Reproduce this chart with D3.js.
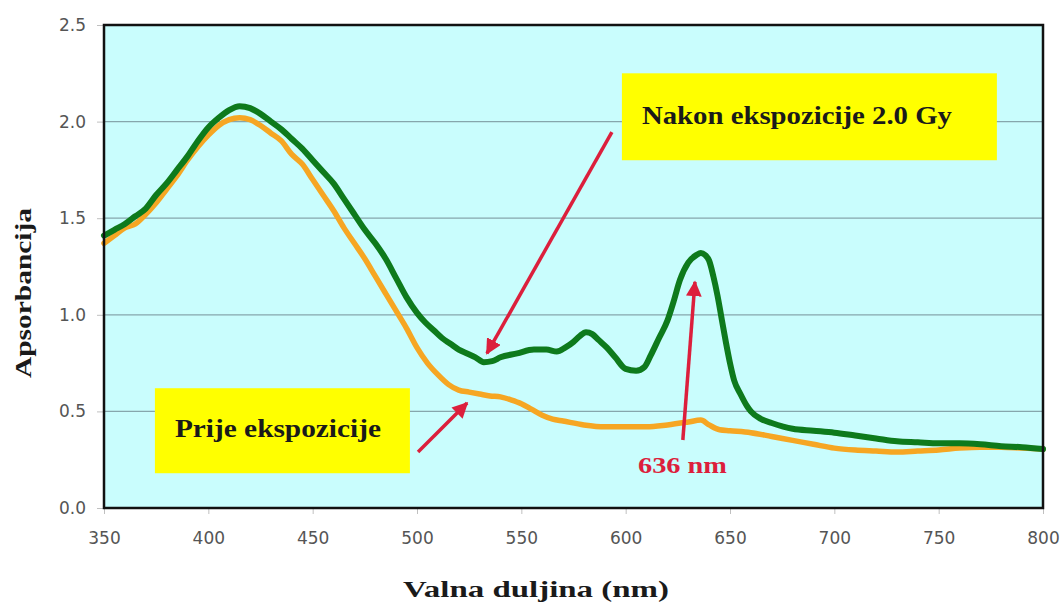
<!DOCTYPE html>
<html>
<head>
<meta charset="utf-8">
<script src="https://cdn.jsdelivr.net/npm/d3@7"></script>
<style>
  html, body { margin: 0; padding: 0; background: #fff; }
  svg { display: block; }
  .serif { font-family: "Liberation Serif", "Times New Roman", Times, serif; font-weight: bold; }
</style>
</head>
<body>
<svg id="chart" width="1064" height="603"></svg>
<script>
// Absorption spectra before and after 2.0 Gy exposure
const nakonNm  = [350,355,360,365,370,375,380,385,390,395,400,405,410,415,420,425,430,435,440,445,450,455,460,465,470,475,480,485,490,495,500,504,508,512,516,520,524,528,532,536,540,548,556,562,567,571,575,578,581,584,587,591,595,600,605,609,612,616,620,623,626,630,634,636,638,640,642,644,646,648,650,652,655,658,660,665,670,680,690,700,710,720,730,740,750,760,770,780,790,800];
const nakonAbs = [1.41,1.44,1.47,1.51,1.55,1.62,1.68,1.75,1.82,1.90,1.97,2.02,2.06,2.08,2.07,2.04,2.00,1.96,1.91,1.86,1.80,1.74,1.68,1.60,1.52,1.44,1.37,1.29,1.19,1.09,1.01,0.96,0.92,0.88,0.85,0.82,0.80,0.78,0.755,0.76,0.78,0.80,0.82,0.82,0.81,0.83,0.86,0.89,0.91,0.90,0.87,0.83,0.78,0.72,0.71,0.73,0.79,0.88,0.97,1.07,1.18,1.27,1.31,1.32,1.31,1.28,1.20,1.10,0.98,0.86,0.75,0.66,0.59,0.53,0.50,0.46,0.44,0.41,0.40,0.39,0.375,0.36,0.345,0.34,0.335,0.335,0.33,0.32,0.315,0.305];

const prijeNm  = [350,355,360,365,370,375,380,385,390,395,400,405,410,415,420,425,430,435,440,445,450,455,460,465,470,475,480,485,490,495,500,505,510,515,520,525,530,535,540,545,550,555,560,565,570,580,590,600,610,620,630,636,640,645,650,660,670,680,690,700,710,720,730,740,750,760,770,780,790,800];
const prijeAbs = [1.37,1.41,1.45,1.47,1.52,1.58,1.65,1.72,1.80,1.87,1.93,1.98,2.01,2.02,2.01,1.98,1.94,1.90,1.83,1.78,1.70,1.62,1.54,1.45,1.37,1.29,1.20,1.11,1.02,0.93,0.83,0.75,0.69,0.64,0.61,0.60,0.59,0.58,0.575,0.56,0.54,0.51,0.48,0.46,0.45,0.43,0.42,0.42,0.42,0.43,0.445,0.455,0.43,0.405,0.40,0.39,0.37,0.35,0.33,0.31,0.30,0.295,0.29,0.295,0.30,0.31,0.315,0.315,0.31,0.305];

const xTicks = [350,400,450,500,550,600,650,700,750,800];
const yTicks = [0.0,0.5,1.0,1.5,2.0,2.5];

const labelNakon = "Nakon ekspozicije 2.0 Gy";
const labelPrije = "Prije ekspozicije";
const labelPeak  = "636 nm";
const xTitle = "Valna duljina (nm)";
const yTitle = "Apsorbancija";

const svg = d3.select("#chart");
const margin = { left: 104, top: 25, right: 21, bottom: 95 };
const W = 1064 - margin.left - margin.right;
const H = 603 - margin.top - margin.bottom;

const x = d3.scaleLinear().domain([350, 800]).range([0, W]);
const y = d3.scaleLinear().domain([0, 2.5]).range([H, 0]);

const g = svg.append("g").attr("transform", `translate(${margin.left},${margin.top})`);

// plot background
g.append("rect").attr("width", W).attr("height", H).attr("fill", "#c9fdfd");

// horizontal grid
g.append("g").selectAll("line").data(yTicks.filter(d => d > 0 && d < 2.5)).join("line")
  .attr("x1", 0).attr("x2", W)
  .attr("y1", d => y(d)).attr("y2", d => y(d))
  .attr("stroke", "#86a6ac").attr("stroke-width", 1.2);

// axes
const tickFont = "'DejaVu Sans', Verdana, sans-serif";
const xAxis = g.append("g").attr("transform", `translate(0,${H})`)
  .call(d3.axisBottom(x).tickValues(xTicks).tickSize(6).tickPadding(18).tickFormat(d3.format("d")));
const yAxis = g.append("g")
  .call(d3.axisLeft(y).tickValues(yTicks).tickSize(7).tickPadding(11).tickFormat(d3.format(".1f")));
[xAxis, yAxis].forEach(a => {
  a.select(".domain").remove();
  a.selectAll(".tick line").attr("stroke", "#c0c0c0");
  a.selectAll(".tick text").attr("fill", "#555").style("font-family", tickFont).style("font-size", "17px");
});

// annotation boxes
function box(x0, x1, y0, y1) {
  g.append("rect")
    .attr("x", x(x0)).attr("y", y(y0))
    .attr("width", x(x1) - x(x0)).attr("height", y(y1) - y(y0))
    .attr("fill", "#ffff00");
}
box(598.2, 777.9, 2.25, 1.80);
box(374.4, 496.6, 0.62, 0.18);

// spectra
const line = d3.line().x(d => x(d[0])).y(d => y(d[1])).curve(d3.curveMonotoneX);
const prije = prijeNm.map((d, i) => [d, prijeAbs[i]]);
const nakon = nakonNm.map((d, i) => [d, nakonAbs[i]]);

g.append("path").datum(prije).attr("d", line)
  .attr("fill", "none").attr("stroke", "#f6a623").attr("stroke-width", 5.5)
  .attr("stroke-linejoin", "round").attr("stroke-linecap", "round");
g.append("path").datum(nakon).attr("d", line)
  .attr("fill", "none").attr("stroke", "#0e7a1c").attr("stroke-width", 6)
  .attr("stroke-linejoin", "round").attr("stroke-linecap", "round");

// plot frame
g.append("rect").attr("width", W).attr("height", H)
  .attr("fill", "none").attr("stroke", "#111").attr("stroke-width", 2.5);

// arrows
const red = "#dc1f3c";
svg.append("defs").append("marker")
  .attr("id", "head").attr("viewBox", "0 0 10 10")
  .attr("refX", 9).attr("refY", 5)
  .attr("markerWidth", 4.5).attr("markerHeight", 4.5)
  .attr("orient", "auto")
  .append("path").attr("d", "M0,0 L10,5 L0,10 z").attr("fill", red);

function arrow(a, b) {
  g.append("line")
    .attr("x1", x(a[0])).attr("y1", y(a[1]))
    .attr("x2", x(b[0])).attr("y2", y(b[1]))
    .attr("stroke", red).attr("stroke-width", 3.5)
    .attr("marker-end", "url(#head)");
}
arrow([593.4, 1.946], [533.5, 0.80]);
arrow([500.5, 0.29], [524, 0.543]);
arrow([627.4, 0.352], [633.2, 1.17]);

// in-plot labels
function label(t, nm, a, len, size, color) {
  g.append("text").attr("class", "serif")
    .attr("x", x(nm)).attr("y", y(a))
    .attr("textLength", len).attr("lengthAdjust", "spacingAndGlyphs")
    .attr("fill", color).style("font-size", size + "px").text(t);
}
label(labelNakon, 607.8, 1.99, 310, 26, "#1a1a1a");
label(labelPrije, 384, 0.367, 206, 26, "#1a1a1a");
label(labelPeak, 605.9, 0.18, 89, 24, red);

// axis titles
svg.append("text").attr("class", "serif")
  .attr("x", 536).attr("y", 597)
  .attr("text-anchor", "middle")
  .attr("textLength", 266).attr("lengthAdjust", "spacingAndGlyphs")
  .attr("fill", "#1a1a1a").style("font-size", "24px")
  .text(xTitle);
svg.append("text").attr("class", "serif")
  .attr("transform", `translate(31,293) rotate(-90)`)
  .attr("text-anchor", "middle")
  .attr("textLength", 170).attr("lengthAdjust", "spacingAndGlyphs")
  .attr("fill", "#1a1a1a").style("font-size", "24px")
  .text(yTitle);
</script>
</body>
</html>
